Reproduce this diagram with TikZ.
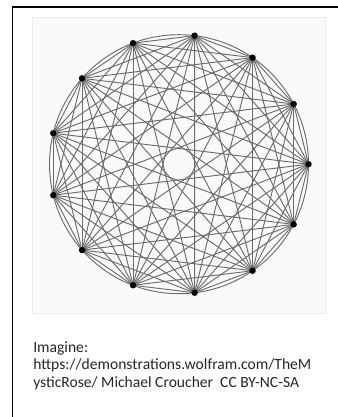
\documentclass[tikz,border=0pt]{standalone}
\usepackage{fontspec}
\setmainfont{Carlito}
\usetikzlibrary{positioning}
\tikzset{
    % --- Outer page frame (cut off at right and bottom) ---
    page frame/.style = {
        draw=black, line width=0.9pt
    },
    % --- Pasted picture area ---
    photo/.style = {
        fill=black!2, draw=black!8, line width=0.6pt
    },
    % --- Chord between two points of the rose ---
    chord/.style = {
        draw=black!58, line width=0.7pt
    },
    % --- Circle round the rose ---
    rim/.style = {
        draw=black!58, line width=0.7pt
    },
    % --- Point on the circle ---
    vertex/.style = {
        circle, fill=black,
        minimum size=4.8pt, inner sep=0pt
    },
    % --- Caption below the picture ---
    caption/.style = {
        font=\fontsize{11.7}{13.2}\selectfont, text=black!85,
        align=left, inner sep=0pt
    }
}

\begin{document}
\begin{tikzpicture}[x=0.75pt, y=-0.75pt]

\useasboundingbox (0,0) rectangle (338,417);

% ---------------------------------------------------------
% Frame and picture area
% ---------------------------------------------------------
\draw[page frame] (12.5,417) |- (338,7);
\draw[photo] (32,17) rectangle (325,313);

% ---------------------------------------------------------
% Mystic rose: 13 points, every pair joined
% ---------------------------------------------------------
\coordinate (O) at (179,164.2);
\foreach \i in {0,...,12}
    \coordinate (v\i) at ([shift={({360/13*\i}:129.5)}]O);

\draw[rim] (O) circle[radius=129.5];

\foreach \i in {0,...,11} {
    \pgfmathtruncatemacro{\nxt}{\i+1}
    \foreach \j in {\nxt,...,12}
        \draw[chord] (v\i) -- (v\j);
}

\foreach \i in {0,...,12}
    \node[vertex] (p\i) at (v\i) {};

% ---------------------------------------------------------
% Caption
% ---------------------------------------------------------
\node[caption, anchor=north west] (cap) at (33,341)
    {Imagine:\\
     https://demonstrations.wolfram.com/TheM\\
     ysticRose/ Michael Croucher\ \ CC BY-NC-SA};

\end{tikzpicture}
\end{document}
